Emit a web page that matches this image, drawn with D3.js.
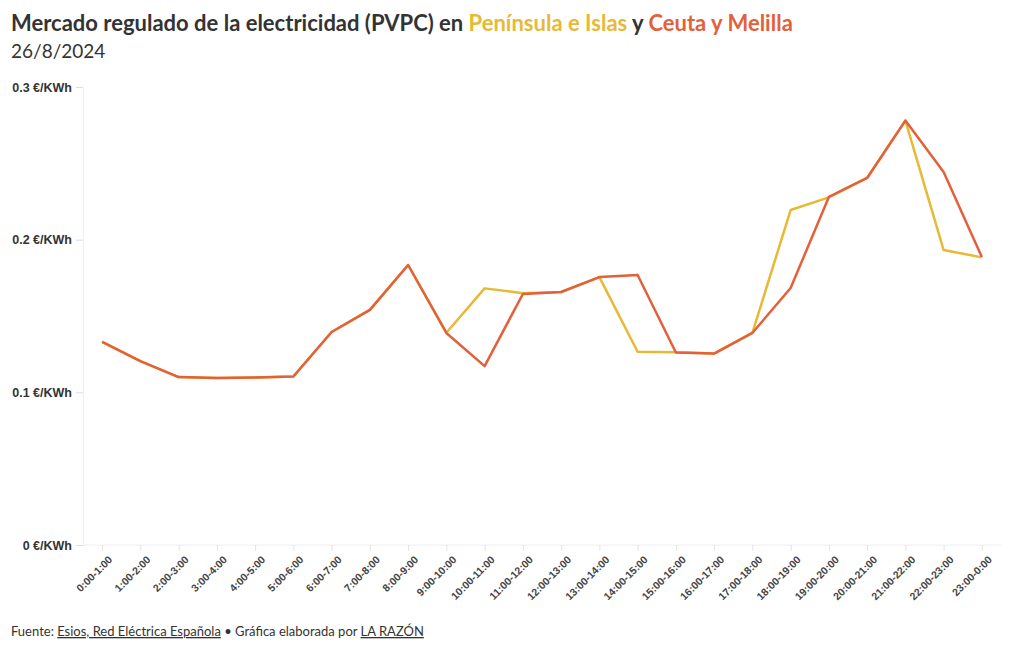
<!DOCTYPE html>
<html>
<head>
<meta charset="utf-8">
<script src="https://cdn.jsdelivr.net/npm/d3@7"></script>
<style>
  body { margin: 0; background: #fff; font-family: Lato, "Open Sans", sans-serif; }
  .title { font-weight: 700; font-size: 22px; fill: #333; }
  .subtitle { font-size: 19px; fill: #333; }
  .footer { font-size: 13px; fill: #333; }
  .ylab { font-size: 12.5px; font-weight: 700; fill: #333; }
  .xlab { font-size: 10.5px; font-weight: 700; fill: #444; }
</style>
</head>
<body>
<div id="chart"></div>
<script>
const hours = ["0:00-1:00","1:00-2:00","2:00-3:00","3:00-4:00","4:00-5:00","5:00-6:00",
  "6:00-7:00","7:00-8:00","8:00-9:00","9:00-10:00","10:00-11:00","11:00-12:00",
  "12:00-13:00","13:00-14:00","14:00-15:00","15:00-16:00","16:00-17:00","17:00-18:00",
  "18:00-19:00","19:00-20:00","20:00-21:00","21:00-22:00","22:00-23:00","23:00-0:00"];

const peninsula = [0.133, 0.1205, 0.110, 0.1094, 0.1097, 0.1104, 0.1395, 0.154, 0.1834, 0.139,
  0.1681, 0.1649, 0.1657, 0.1755, 0.1266, 0.1262, 0.1254, 0.1389, 0.2194, 0.2277,
  0.2404, 0.2780, 0.1932, 0.1884];

const ceuta = [0.133, 0.1205, 0.110, 0.1094, 0.1097, 0.1104, 0.1395, 0.154, 0.1834, 0.1389,
  0.1172, 0.1644, 0.1657, 0.1755, 0.1769, 0.1261, 0.1254, 0.1389, 0.1683, 0.228,
  0.2404, 0.2780, 0.2443, 0.1886];

const yTicks = [0, 0.1, 0.2, 0.3];

const width = 1020, height = 650;
const margin = { top: 87, right: 19, bottom: 105, left: 83 };

const svg = d3.select("#chart").append("svg")
  .attr("width", width).attr("height", height);

// header
const title = svg.append("text").attr("class", "title").attr("x", 11).attr("y", 31);
title.append("tspan").text("Mercado regulado de la electricidad (PVPC) en ");
title.append("tspan").attr("fill", "#e8b935").text("Península e Islas");
title.append("tspan").text(" y ");
title.append("tspan").attr("fill", "#e2613a").text("Ceuta y Melilla");

svg.append("text").attr("class", "subtitle").attr("x", 11).attr("y", 58).text("26/8/2024");

const x = d3.scalePoint()
  .domain(hours)
  .range([margin.left, width - margin.right])
  .padding(0.5);

const y = d3.scaleLinear()
  .domain([0, 0.3])
  .range([height - margin.bottom, margin.top]);

// y axis
const yAxis = svg.append("g")
  .attr("transform", `translate(${margin.left},0)`)
  .call(d3.axisLeft(y).tickValues(yTicks).tickSize(7).tickPadding(4)
    .tickFormat(d => d3.format(".1~f")(d) + " €/KWh"));
yAxis.select(".domain").attr("stroke", "#eee");
yAxis.selectAll(".tick line").attr("stroke", "#ddd");
yAxis.selectAll(".tick text").attr("class", "ylab").attr("font-family", null).attr("font-size", null);

// x axis
const xAxis = svg.append("g")
  .attr("transform", `translate(0,${height - margin.bottom})`)
  .call(d3.axisBottom(x).tickSize(6).tickSizeOuter(0));
xAxis.select(".domain").attr("stroke", "#eee").attr("d", `M${margin.left},0H${width - margin.right}`);
xAxis.selectAll(".tick line").attr("stroke", "#e4e4e4");
xAxis.selectAll(".tick text")
  .attr("class", "xlab")
  .attr("font-family", null).attr("font-size", null)
  .attr("text-anchor", "end")
  .attr("dy", null)
  .attr("transform", "translate(4,9) rotate(-45)");

const line = d3.line()
  .x((d, i) => x(hours[i]))
  .y(d => y(d));

svg.append("path").datum(peninsula)
  .attr("fill", "none").attr("stroke", "#e8b935").attr("stroke-width", 2.5)
  .attr("stroke-linejoin", "round").attr("d", line);

svg.append("path").datum(ceuta)
  .attr("fill", "none").attr("stroke", "#e2613a").attr("stroke-width", 2.5)
  .attr("stroke-linejoin", "round").attr("d", line);

// footer
const foot = svg.append("text").attr("class", "footer").attr("x", 11).attr("y", 636);
foot.append("tspan").text("Fuente: ");
foot.append("tspan").attr("text-decoration", "underline").text("Esios, Red Eléctrica Española");
foot.append("tspan").text(" • Gráfica elaborada por ");
foot.append("tspan").attr("text-decoration", "underline").text("LA RAZÓN");
</script>
</body>
</html>
